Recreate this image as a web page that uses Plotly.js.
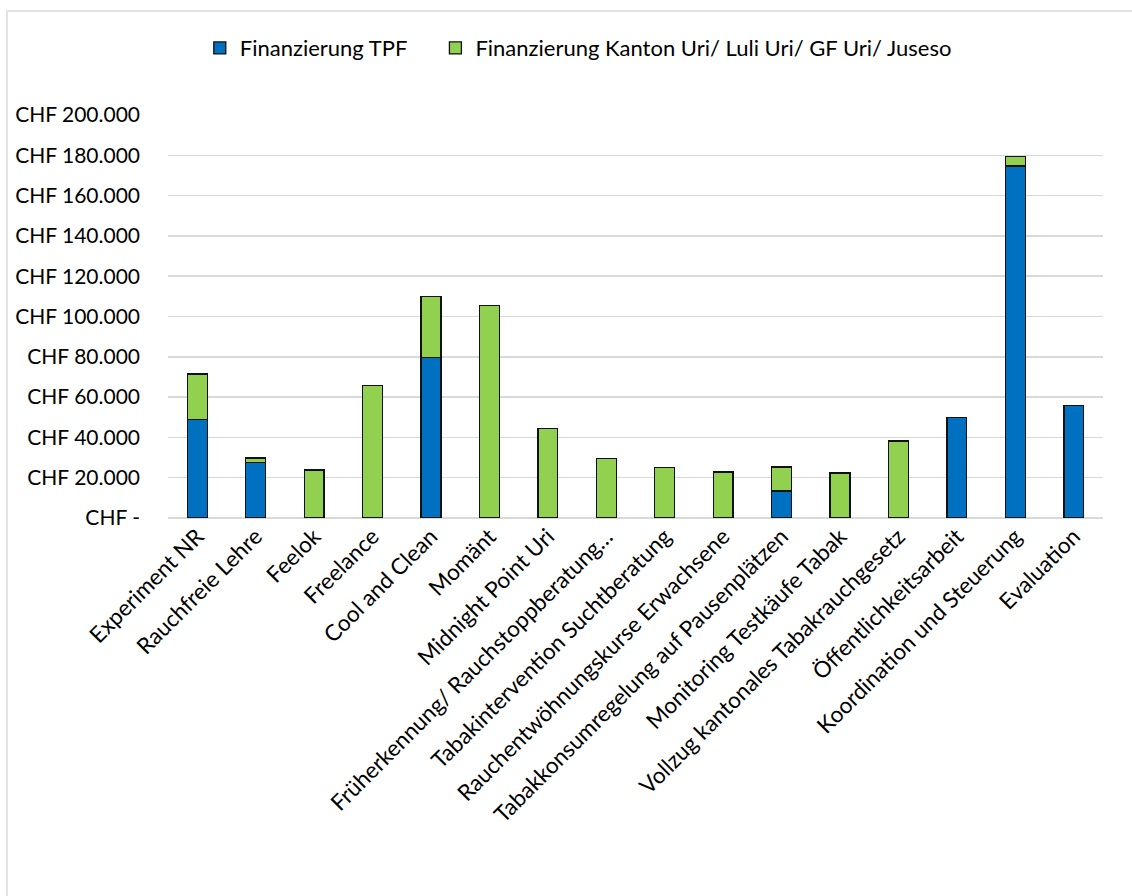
<!DOCTYPE html>
<html>
<head>
<meta charset="utf-8">
<script src="https://cdn.plot.ly/plotly-3.0.1.min.js"></script>
<style>
  html, body { margin: 0; padding: 0; background: #fff; overflow: hidden; }
  #frame { position: absolute; left: 6px; top: 10px; width: 1140px; height: 900px; border: 2px solid #e3e3e3; box-sizing: border-box; }
  #chart { position: absolute; left: 0; top: 0; width: 1132px; height: 896px; }
</style>
</head>
<body>
<div id="frame"></div>
<div id="chart"></div>
<script>
const categories = [
  "Experiment NR",
  "Rauchfreie Lehre",
  "Feelok",
  "Freelance",
  "Cool and Clean",
  "Momänt",
  "Midnight Point Uri",
  "Früherkennung/ Rauchstoppberatung…",
  "Tabakintervention Suchtberatung",
  "Rauchentwöhnungskurse Erwachsene",
  "Tabakkonsumregelung auf Pausenplätzen",
  "Monitoring Testkäufe Tabak",
  "Vollzug kantonales Tabakrauchgesetz",
  "Öffentlichkeitsarbeit",
  "Koordination und Steuerung",
  "Evaluation"
];
const seriesNames = ["Finanzierung TPF", "Finanzierung Kanton Uri/ Luli Uri/ GF Uri/ Juseso"];
const finanzierungTPF =    [49000, 27700, 0, 0, 79800, 0, 0, 0, 0, 0, 13400, 0, 0, 49900, 174700, 56000];
const finanzierungKanton = [22400, 2100, 23800, 65900, 30000, 105500, 44400, 29700, 25000, 22900, 11900, 22400, 38200, 0, 4600, 0];
const yTickValues = [0, 20000, 40000, 60000, 80000, 100000, 120000, 140000, 160000, 180000, 200000];
const yTickLabels = ["CHF -", "CHF 20.000", "CHF 40.000", "CHF 60.000", "CHF 80.000", "CHF 100.000", "CHF 120.000", "CHF 140.000", "CHF 160.000", "CHF 180.000", "CHF 200.000"];

const FONT = "Lato, 'Open Sans', sans-serif";

const traces = [
  {
    type: "bar", name: seriesNames[0], x: categories, y: finanzierungTPF,
    marker: { color: "#0070C0", line: { color: "#111", width: 1.3 } },
    legend: "legend",
    hoverinfo: "skip"
  },
  {
    type: "bar", name: seriesNames[1], x: categories, y: finanzierungKanton,
    marker: { color: "#92D050", line: { color: "#111", width: 1.3 } },
    legend: "legend2",
    hoverinfo: "skip"
  }
];

const legendBase = {
  orientation: "h",
  yanchor: "middle",
  xanchor: "left",
  y: 1.166,
  font: { family: FONT, size: 22, color: "#000" },
  itemwidth: 30,
  bgcolor: "rgba(0,0,0,0)"
};

const layout = {
  width: 1132, height: 896,
  margin: { l: 168, r: 29, t: 115, b: 378 },
  paper_bgcolor: "rgba(0,0,0,0)",
  plot_bgcolor: "rgba(0,0,0,0)",
  barmode: "stack",
  bargap: 0.66,
  font: { family: FONT, size: 21, color: "#000" },
  showlegend: true,
  legend: Object.assign({}, legendBase, { x: 0.034 }),
  legend2: Object.assign({}, legendBase, { x: 0.286 }),
  xaxis: {
    type: "category",
    tickangle: -45,
    tickfont: { family: FONT, size: 22.5, color: "#000" },
    showgrid: false,
    showline: false,
    ticks: "",
    zeroline: false,
    automargin: false
  },
  yaxis: {
    range: [0, 200000],
    tickvals: yTickValues,
    ticktext: yTickLabels,
    tickfont: { family: FONT, size: 21, color: "#000" },
    showgrid: true,
    gridcolor: "#d9d9d9",
    gridwidth: 1.5,
    zeroline: true,
    zerolinecolor: "#d9d9d9",
    zerolinewidth: 1.5,
    ticks: "",
    ticklabelstandoff: 27,
    showline: false,
    automargin: false
  }
};

Plotly.newPlot("chart", traces, layout, { displayModeBar: false, staticPlot: true });
</script>
</body>
</html>
